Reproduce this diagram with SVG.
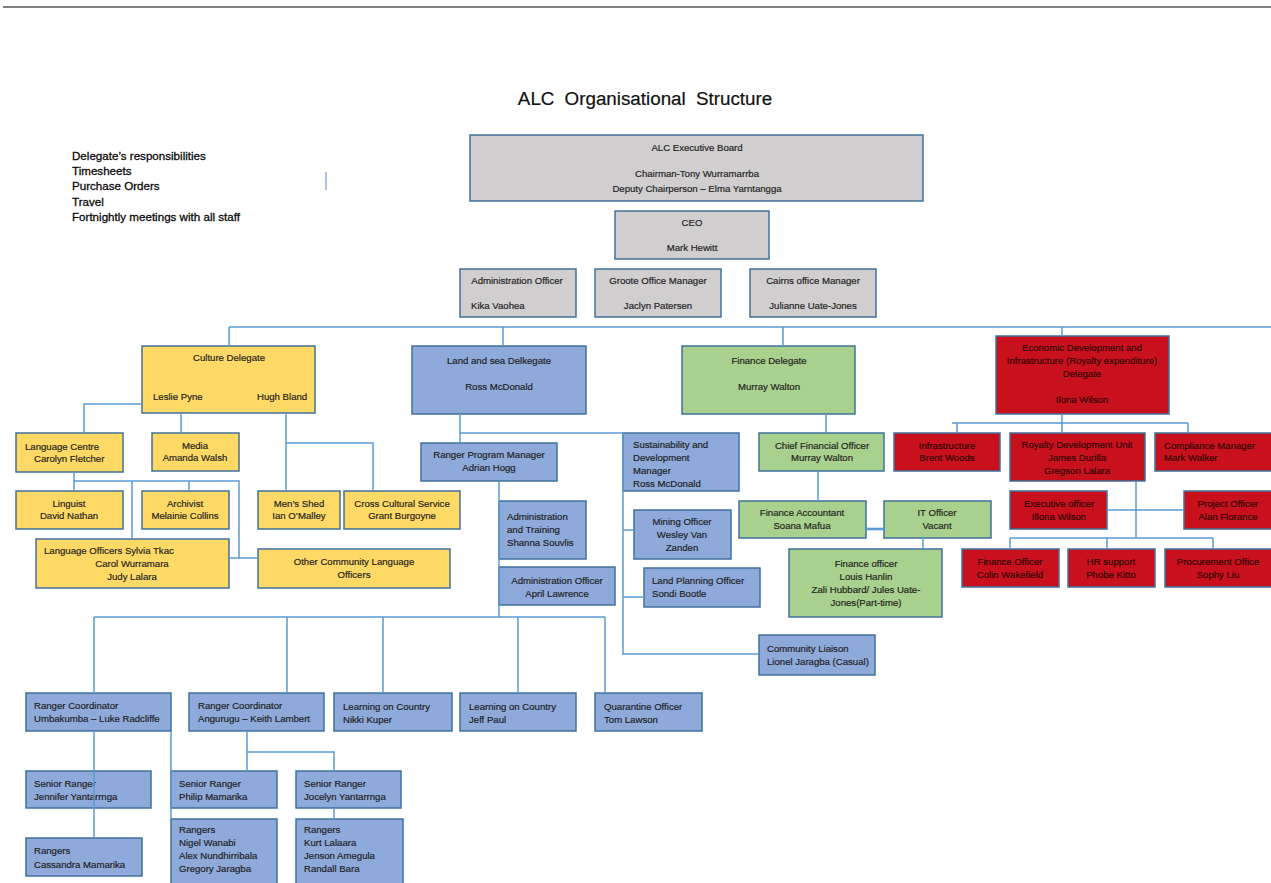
<svg xmlns="http://www.w3.org/2000/svg" width="1271" height="883" viewBox="0 0 1271 883">
<style>
text{font-family:"Liberation Sans",Arial,sans-serif;font-size:9.6px;fill:#1e1e1e;stroke:#1e1e1e;stroke-width:0.18}
.m{text-anchor:middle}
.b rect{stroke:#41719c;stroke-width:1.5}
.g rect{fill:#d0cece}
.y rect{fill:#ffd966}
.u rect{fill:#8eaadb}
.n rect{fill:#a9d18e}
.r rect{fill:#c9111e}
.r text{fill:#2e0406;stroke:#2e0406}
.cn path{fill:none;stroke:#5b9bd5;stroke-width:1.5}
.lst{font-size:11.6px;fill:#0a0a0a;stroke:#0a0a0a;stroke-width:0.3}
.ttl{font-size:18.8px;word-spacing:5px;fill:#111;stroke:#111;stroke-width:0.2}
</style>
<rect width="1271" height="883" fill="#fff"/>
<path d="M3 7H1271" stroke="#555" stroke-width="1.6"/>
<text class="ttl m" x="645" y="105">ALC Organisational Structure</text>
<g id="notes">
<text class="lst" x="72" y="160">Delegate’s responsibilities</text>
<text class="lst" x="72" y="175">Timesheets</text>
<text class="lst" x="72" y="190">Purchase Orders</text>
<text class="lst" x="72" y="206">Travel</text>
<text class="lst" x="72" y="221">Fortnightly meetings with all staff</text>
<path d="M326 172V190" stroke="#5b86c0" stroke-width="1"/>
</g>

<g class="b g" id="exec"><rect x="470" y="135" width="453" height="66"/>
<text class="m" x="697" y="151">ALC Executive Board</text>
<text class="m" x="697" y="177">Chairman-Tony Wurramarrba</text>
<text class="m" x="697" y="192">Deputy Chairperson – Elma Yarntangga</text></g>
<g class="b g" id="ceo"><rect x="615" y="211" width="154" height="48"/>
<text class="m" x="692" y="226">CEO</text>
<text class="m" x="692" y="251">Mark Hewitt</text></g>
<g class="b g" id="admin"><rect x="460" y="269" width="116" height="48"/>
<text class="m" x="517" y="284">Administration Officer</text>
<text x="471" y="309">Kika Vaohea</text></g>
<g class="b g" id="groote"><rect x="595" y="269" width="126" height="48"/>
<text class="m" x="658" y="284">Groote Office Manager</text>
<text class="m" x="658" y="309">Jaclyn Patersen</text></g>
<g class="b g" id="cairns"><rect x="750" y="269" width="126" height="48"/>
<text class="m" x="813" y="284">Cairns office Manager</text>
<text class="m" x="813" y="309">Julianne Uate-Jones</text></g>

<g class="b y" id="culture"><rect x="142" y="346" width="173" height="67"/>
<text class="m" x="229" y="361">Culture Delegate</text>
<text x="153" y="400">Leslie Pyne</text>
<text x="257" y="400">Hugh Bland</text></g>
<g class="b y" id="langcentre"><rect x="16" y="433" width="107" height="39"/>
<text x="25" y="450">Language Centre</text>
<text x="34" y="462">Carolyn Fletcher</text></g>
<g class="b y" id="media"><rect x="152" y="433" width="87" height="38"/>
<text class="m" x="195" y="449">Media</text>
<text class="m" x="195" y="461">Amanda Walsh</text></g>
<g class="b y" id="linguist"><rect x="16" y="491" width="107" height="38"/>
<text class="m" x="69" y="507">Linguist</text>
<text class="m" x="69" y="519">David Nathan</text></g>
<g class="b y" id="archivist"><rect x="142" y="491" width="87" height="38"/>
<text class="m" x="185" y="507">Archivist</text>
<text class="m" x="185" y="519">Melainie Collins</text></g>
<g class="b y" id="mensshed"><rect x="258" y="491" width="82" height="38"/>
<text class="m" x="299" y="507">Men’s Shed</text>
<text class="m" x="299" y="519">Ian O’Malley</text></g>
<g class="b y" id="crosscultural"><rect x="344" y="491" width="116" height="38"/>
<text class="m" x="402" y="507">Cross Cultural Service</text>
<text class="m" x="402" y="519">Grant Burgoyne</text></g>
<g class="b y" id="langofficers"><rect x="36" y="539" width="193" height="49"/>
<text x="44" y="554">Language Officers Sylvia Tkac</text>
<text class="m" x="132" y="567">Carol Wurramara</text>
<text class="m" x="132" y="580">Judy Lalara</text></g>
<g class="b y" id="othercomm"><rect x="258" y="549" width="192" height="39"/>
<text class="m" x="354" y="565">Other Community Language</text>
<text class="m" x="354" y="578">Officers</text></g>

<g class="b u" id="landsea"><rect x="412" y="346" width="174" height="68"/>
<text class="m" x="499" y="364">Land and sea Delkegate</text>
<text class="m" x="499" y="390">Ross McDonald</text></g>
<g class="b u" id="rpm"><rect x="421" y="443" width="136" height="38"/>
<text class="m" x="489" y="458">Ranger Program Manager</text>
<text class="m" x="489" y="471">Adrian Hogg</text></g>
<g class="b u" id="sustain"><rect x="623" y="433" width="116" height="58"/>
<text x="633" y="448">Sustainability and</text>
<text x="633" y="461">Development</text>
<text x="633" y="474">Manager</text>
<text x="633" y="487">Ross McDonald</text></g>
<g class="b u" id="admintrain"><rect x="499" y="501" width="87" height="58"/>
<text x="507" y="520">Administration</text>
<text x="507" y="533">and Training</text>
<text x="507" y="546">Shanna Souvlis</text></g>
<g class="b u" id="adminoff2"><rect x="499" y="567" width="116" height="38"/>
<text class="m" x="557" y="584">Administration Officer</text>
<text class="m" x="557" y="597">April Lawrence</text></g>
<g class="b u" id="mining"><rect x="634" y="510" width="97" height="49"/>
<text class="m" x="682" y="525">Mining Officer</text>
<text class="m" x="682" y="538">Wesley Van</text>
<text class="m" x="682" y="551">Zanden</text></g>
<g class="b u" id="landplan"><rect x="644" y="568" width="116" height="39"/>
<text x="652" y="584">Land Planning Officer</text>
<text x="652" y="597">Sondi Bootle</text></g>
<g class="b u" id="community"><rect x="759" y="635" width="116" height="40"/>
<text x="767" y="652">Community Liaison</text>
<text x="767" y="665">Lionel Jaragba (Casual)</text></g>
<g class="b u" id="rc1"><rect x="26" y="693" width="145" height="38"/>
<text x="34" y="709">Ranger Coordinator</text>
<text x="34" y="722">Umbakumba – Luke Radcliffe</text></g>
<g class="b u" id="rc2"><rect x="189" y="693" width="135" height="38"/>
<text x="198" y="709">Ranger Coordinator</text>
<text x="198" y="722">Angurugu – Keith Lambert</text></g>
<g class="b u" id="loc1"><rect x="334" y="693" width="118" height="38"/>
<text x="343" y="710">Learning on Country</text>
<text x="343" y="723">Nikki Kuper</text></g>
<g class="b u" id="loc2"><rect x="460" y="693" width="116" height="38"/>
<text x="469" y="710">Learning on Country</text>
<text x="469" y="723">Jeff Paul</text></g>
<g class="b u" id="quarantine"><rect x="595" y="693" width="107" height="38"/>
<text x="604" y="710">Quarantine Officer</text>
<text x="604" y="723">Tom Lawson</text></g>
<g class="b u" id="sr1"><rect x="26" y="771" width="125" height="37"/>
<text x="34" y="787">Senior Ranger</text>
<text x="34" y="800">Jennifer Yantarrnga</text></g>
<g class="b u" id="rangers1"><rect x="26" y="838" width="116" height="38"/>
<text x="34" y="854">Rangers</text>
<text x="34" y="868">Cassandra Mamarika</text></g>
<g class="b u" id="sr2"><rect x="171" y="771" width="106" height="37"/>
<text x="179" y="787">Senior Ranger</text>
<text x="179" y="800">Philip Mamarika</text></g>
<g class="b u" id="rangers2"><rect x="171" y="819" width="106" height="70"/>
<text x="179" y="833">Rangers</text>
<text x="179" y="846">Nigel Wanabi</text>
<text x="179" y="859">Alex Nundhirribala</text>
<text x="179" y="872">Gregory Jaragba</text></g>
<g class="b u" id="sr3"><rect x="296" y="771" width="105" height="37"/>
<text x="304" y="787">Senior Ranger</text>
<text x="304" y="800">Jocelyn Yantarrnga</text></g>
<g class="b u" id="rangers3"><rect x="296" y="819" width="107" height="70"/>
<text x="304" y="833">Rangers</text>
<text x="304" y="846">Kurt Lalaara</text>
<text x="304" y="859">Jenson Amegula</text>
<text x="304" y="872">Randall Bara</text></g>

<g class="b n" id="finance"><rect x="682" y="346" width="173" height="68"/>
<text class="m" x="769" y="364">Finance Delegate</text>
<text class="m" x="769" y="390">Murray Walton</text></g>
<g class="b n" id="cfo"><rect x="759" y="433" width="125" height="38"/>
<text class="m" x="822" y="449">Chief Financial Officer</text>
<text class="m" x="822" y="461">Murray Walton</text></g>
<g class="b n" id="finacct"><rect x="739" y="501" width="127" height="37"/>
<text class="m" x="802" y="516">Finance Accountant</text>
<text class="m" x="802" y="529">Soana Mafua</text></g>
<g class="b n" id="itofficer"><rect x="884" y="501" width="107" height="37"/>
<text class="m" x="937" y="516">IT Officer</text>
<text class="m" x="937" y="529">Vacant</text></g>
<g class="b n" id="finofficer"><rect x="789" y="549" width="153" height="68"/>
<text class="m" x="866" y="567">Finance officer</text>
<text class="m" x="866" y="580">Louis Hanlin</text>
<text class="m" x="866" y="593">Zali Hubbard/ Jules Uate-</text>
<text class="m" x="866" y="606">Jones(Part-time)</text></g>

<g class="b r" id="econ"><rect x="996" y="336" width="173" height="78"/>
<text class="m" x="1082" y="351">Economic Development and</text>
<text class="m" x="1082" y="364">Infrastructure (Royalty expenditure)</text>
<text class="m" x="1082" y="377">Delegate</text>
<text class="m" x="1082" y="403">Ilona Wilson</text></g>
<g class="b r" id="infra"><rect x="894" y="433" width="106" height="38"/>
<text class="m" x="947" y="449">Infrastructure</text>
<text class="m" x="947" y="461">Brent Woods</text></g>
<g class="b r" id="royalty"><rect x="1010" y="433" width="135" height="48"/>
<text class="m" x="1077" y="448">Royalty Development Unit</text>
<text class="m" x="1077" y="461">James Durilla</text>
<text class="m" x="1077" y="474">Gregson Lalara</text></g>
<g class="b r" id="compliance"><rect x="1155" y="433" width="120" height="38"/>
<text x="1164" y="449">Compliance Manager</text>
<text x="1164" y="461">Mark Walker</text></g>
<g class="b r" id="execoff"><rect x="1010" y="491" width="97" height="38"/>
<text class="m" x="1059" y="507">Executive officer</text>
<text class="m" x="1059" y="520">Illona Wilson</text></g>
<g class="b r" id="project"><rect x="1184" y="491" width="90" height="38"/>
<text class="m" x="1228" y="507">Project Officer</text>
<text class="m" x="1228" y="520">Alan Florance</text></g>
<g class="b r" id="finoffred"><rect x="962" y="549" width="97" height="38"/>
<text class="m" x="1010" y="565">Finance Officer</text>
<text class="m" x="1010" y="578">Colin Wakefield</text></g>
<g class="b r" id="hr"><rect x="1068" y="549" width="87" height="38"/>
<text class="m" x="1111" y="565">HR support</text>
<text class="m" x="1111" y="578">Phobe Kitto</text></g>
<g class="b r" id="procure"><rect x="1165" y="549" width="110" height="38"/>
<text class="m" x="1218" y="565">Procurement Office</text>
<text class="m" x="1218" y="578">Sophy Liu</text></g>

<g class="cn" id="connectors">
<path d="M229 327H1271M229 327V346M503 327V346M783 327V346M1062 327V336"/>
<path d="M142 404H84V433M181 413V433M286 413V491M286 443H373V491"/>
<path d="M74 472V491M74 481H239V558M132 481V539M189 481V491M229 558H258"/>
<path d="M460 414V443M460 433H623V654H759M623 530H634M623 597H644"/>
<path d="M499 481V617M94 617H605M94 617V693M287 617V693M383 617V693M518 617V693M605 617V693M94 731V838"/>
<path d="M826 414V433M818 471V501M923 538V549"/>
<path d="M866 529H884" style="stroke-width:2.6"/>
<path d="M1062 414V433M952 423H1188M957 423V433M1188 423V433M1136 481V538M1107 510H1184M1010 538H1213M1010 538V549M1107 538V549M1213 538V549"/>
<path d="M171 731V819M247 731V771M247 752H334V771M334 808V819"/>
</g>
</svg>
